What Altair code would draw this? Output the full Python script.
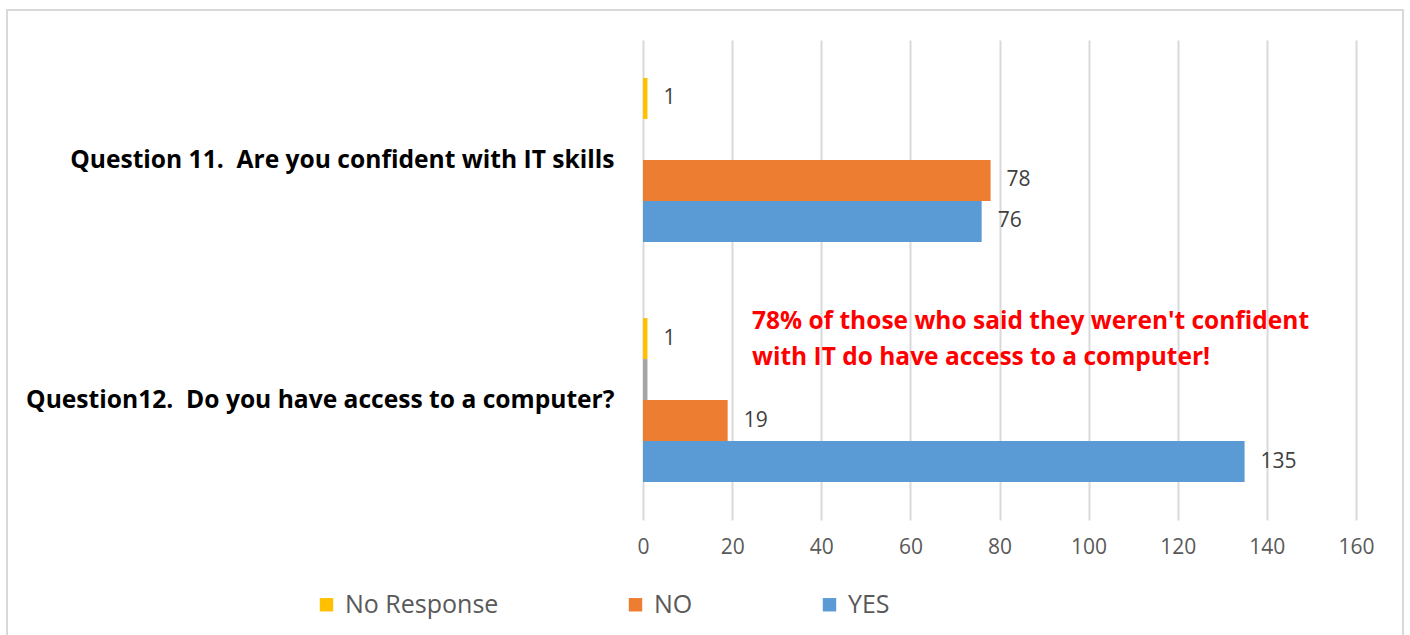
import altair as alt
import pandas as pd

NB = "\u00a0"
questions = ["Question 11." + NB + " Are you confident with IT skills",
             "Question12." + NB + " Do you have access to a computer?"]
series = ["No Response", "Other", "NO", "YES"]
no_response = [1, 1]
other = [0, 1]
no_vals = [78, 19]
yes_vals = [76, 135]
colors = ["#FFC000", "#A5A5A5", "#ED7D31", "#5B9BD5"]
legend_items = ["No Response", "NO", "YES"]
note_lines = ["78% of those who said they weren't confident",
              "with IT do have access to a computer!"]

rows = []
for i, q in enumerate(questions):
    for s, vals in zip(series, [no_response, other, no_vals, yes_vals]):
        rows.append({"question": q, "series": s, "value": vals[i],
                     "label": "" if s == "Other" else str(vals[i])})
df = pd.DataFrame(rows)
df = df[df["value"] > 0]

FONT = "Open Sans"

y_enc = alt.Y("question:N", sort=questions,
              scale=alt.Scale(paddingInner=0.317, paddingOuter=0.158),
              axis=alt.Axis(title=None, domain=False, ticks=False, labelPadding=29,
                            labelFontSize=24.6, labelFontWeight="bold", labelColor="#000000",
                            labelFont=FONT, labelLimit=800, labelOffset=1))
yoff = alt.YOffset("series:N", sort=series, scale=alt.Scale(domain=series, paddingInner=0, paddingOuter=0))
x_enc = alt.X("value:Q", scale=alt.Scale(domain=[0, 160], nice=False),
              axis=alt.Axis(title=None, values=list(range(0, 161, 20)), domain=False, ticks=False,
                            labelFlush=False, labelPadding=16, labelFontSize=21,
                            labelColor="#595959", labelFont=FONT,
                            grid=True, gridColor="#d9d9d9", gridWidth=2))

bars = alt.Chart(df).mark_bar().encode(
    x=x_enc, y=y_enc, yOffset=yoff,
    color=alt.Color("series:N", scale=alt.Scale(domain=series, range=colors),
                    legend=alt.Legend(values=legend_items, title=None, orient="none",
                                      legendX=-329, legendY=552, direction="horizontal",
                                      symbolType="square", symbolSize=180, symbolStrokeWidth=0,
                                      labelFontSize=25, labelColor="#595959", labelFont=FONT,
                                      columnPadding=124, labelOffset=6))
)

labels = alt.Chart(df).mark_text(align="left", baseline="middle", dx=16, fontSize=21,
                                 color="#404040", font=FONT).encode(
    x="value:Q", y=alt.Y("question:N", sort=questions), yOffset=yoff, text="label:N")

note_df = pd.DataFrame({"text": [note_lines]})
note = alt.Chart(note_df).mark_text(align="left", baseline="alphabetic", fontSize=24.5,
                                    fontWeight="bold", color="#FF0000", font=FONT,
                                    lineHeight=36).encode(
    x=alt.value(109), y=alt.value(289), text="text:N")

border = alt.Chart(pd.DataFrame({"a": [0]})).mark_rect(fill=None, stroke="#d9d9d9", strokeWidth=2).encode(
    x=alt.value(-636), x2=alt.value(760), y=alt.value(-30), y2=alt.value(610))

chart = alt.layer(border, bars, labels, note).properties(
    width=713, height=480,
    autosize=alt.AutoSizeParams(type="none"),
    padding={"left": 643, "top": 40, "right": 54, "bottom": 115},
    background="white",
).configure_view(stroke=None)

chart.save("out.html", embed_options={"renderer": "svg", "actions": False})
